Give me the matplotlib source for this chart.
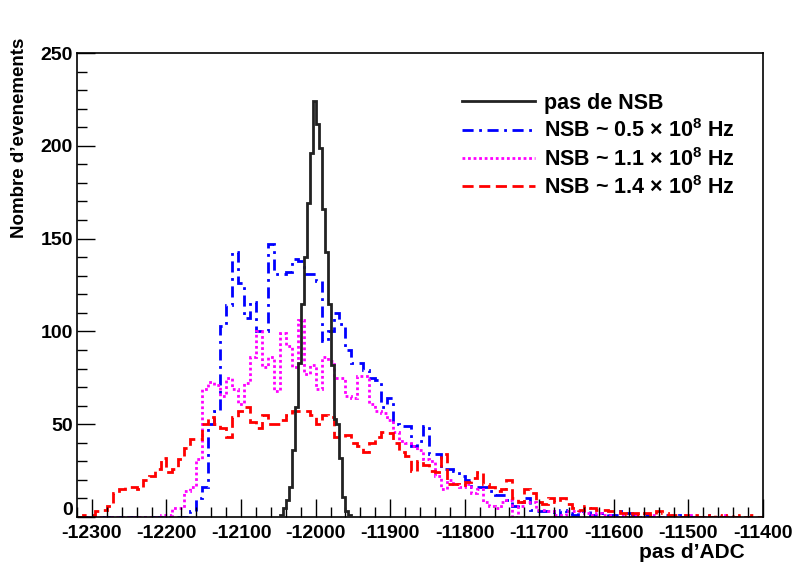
import numpy as np
import matplotlib
matplotlib.use("Agg")
import matplotlib.pyplot as plt
from matplotlib.ticker import MultipleLocator, FuncFormatter

# ADC histograms (counts per bin)
x_min, x_max = -12320, -11400

# no NSB: 4 ADC bins starting at -12048
black_start, black_width = -12048, 4
black_counts = [1, 5, 9, 16, 36, 59, 83, 115, 140, 169, 196, 224,
                212, 199, 166, 143, 115, 82, 53, 50, 32, 11, 3, 1]

# NSB runs: 8 ADC bins starting at -12320
nsb_start, nsb_width = -12320, 8
blue_counts = [0] * 19 + [
    3, 10, 16, 50, 57, 103, 114, 143, 126, 107, 116, 100, 100, 147, 131, 131,
    132, 139, 138, 131, 131, 127, 95, 100, 110, 104, 90, 83, 83, 79, 75, 74,
    59, 64, 50, 49, 49, 38, 41, 49, 34, 34, 26, 26, 25, 22, 20, 16, 16, 16,
    14, 12, 12, 9, 6, 8, 10, 4, 3, 3, 3, 0, 4, 2, 1, 3, 3, 1, 1, 2, 1, 1, 3,
    2, 1, 0, 1, 0, 0, 1, 0, 0, 1, 0, 0, 0, 1, 0, 0, 0, 0, 0]
magenta_counts = [0] * 14 + [
    1, 1, 5, 5, 14, 16, 31, 69, 73, 71, 65, 75, 69, 61, 72, 86, 100, 81, 86,
    68, 99, 92, 81, 106, 77, 82, 69, 86, 84, 75, 75, 65, 64, 76, 76, 61, 57,
    56, 52, 46, 41, 40, 38, 36, 31, 30, 22, 15, 20, 18, 16, 18, 13, 15, 8, 6,
    5, 8, 9, 0, 6, 8, 8, 4, 4, 3, 1, 1, 3, 3, 3, 2, 1, 2, 1, 1, 0, 1, 0, 1, 0,
    0, 1, 0, 0, 1, 0, 0, 1, 0, 0, 0, 0, 0, 1, 0]
red_counts = [
    0, 1, 1, 3, 4, 6, 13, 15, 16, 16, 15, 20, 22, 26, 32, 24, 26, 31, 37, 42,
    42, 50, 54, 50, 48, 43, 54, 57, 59, 51, 48, 55, 50, 50, 52, 55, 57, 57,
    57, 55, 50, 55, 54, 43, 43, 44, 40, 38, 35, 40, 43, 46, 45, 40, 35, 33,
    25, 30, 28, 25, 24, 34, 18, 18, 17, 19, 21, 24, 18, 16, 14, 15, 20, 10,
    8, 15, 13, 8, 7, 10, 8, 10, 7, 5, 4, 6, 5, 4, 4, 3, 3, 2, 1, 2, 1, 2, 1,
    3, 2, 1, 1, 0, 1, 1, 0, 1, 0, 1, 0, 1, 0, 1, 0, 1, 0]

labels = ["pas de NSB",
          r"NSB ~ 0.5 $\times$ 10$^{\mathbf{8}}$ Hz",
          r"NSB ~ 1.1 $\times$ 10$^{\mathbf{8}}$ Hz",
          r"NSB ~ 1.4 $\times$ 10$^{\mathbf{8}}$ Hz"]

plt.rcParams['font.family'] = ['Liberation Sans', 'DejaVu Sans']
plt.rcParams['font.weight'] = 'bold'
plt.rcParams['axes.unicode_minus'] = False
plt.rcParams['mathtext.fontset'] = 'custom'
plt.rcParams['mathtext.rm'] = 'Liberation Sans:bold'
plt.rcParams['mathtext.bf'] = 'Liberation Sans:bold'

fig = plt.figure(figsize=(7.96, 5.72), dpi=100)
ax = fig.add_axes([77 / 796, 1 - 517 / 572, (763 - 77) / 796, (517 - 53) / 572])


def edges(start, width, n):
    return start + width * np.arange(n + 1)


ax.stairs(black_counts, edges(black_start, black_width, len(black_counts)),
          color='#222222', lw=2.0, label=labels[0], zorder=5)
ax.stairs(blue_counts, edges(nsb_start, nsb_width, len(blue_counts)),
          color='#0000ff', lw=2.0, linestyle=(0, (4, 2, 1, 2)), label=labels[1])
ax.stairs(magenta_counts, edges(nsb_start, nsb_width, len(magenta_counts)),
          color='#ff00ff', lw=2.0, linestyle=(0, (1, 1)), label=labels[2])
ax.stairs(red_counts, edges(nsb_start, nsb_width, len(red_counts)),
          color='#ff0000', lw=2.0, linestyle=(0, (4, 2)), label=labels[3])

ax.set_xlim(x_min, x_max)
ax.set_ylim(0, 250)

ax.xaxis.set_major_locator(MultipleLocator(100))
ax.xaxis.set_minor_locator(MultipleLocator(20))
ax.yaxis.set_major_locator(MultipleLocator(50))
ax.yaxis.set_minor_locator(MultipleLocator(10))
# the "0" label is drawn separately, a bit higher, so it clears the x labels
ax.yaxis.set_major_formatter(FuncFormatter(lambda v, p: '' if v == 0 else f'{v:.0f}'))
ax.tick_params(which='both', direction='in', top=False, right=False, width=1)
ax.tick_params(which='major', length=13, labelsize=14)
ax.tick_params(which='minor', length=7)
ax.tick_params(axis='x', pad=6)
ax.tick_params(axis='y', pad=3)
for s in ax.spines.values():
    s.set_linewidth(1.2)
ax.text(-0.006, 0.013, '0', transform=ax.transAxes, ha='right', va='center',
        fontsize=14, fontweight='bold')

fig.text(745 / 796, 1 - 552 / 572, "pas d\u2019ADC", ha='right', va='center',
         fontsize=15, fontweight='bold')
fig.text(20 / 796, 1 - 38 / 572, "Nombre d\u2019evenements", ha='center', va='top',
         rotation=90, fontsize=13.5, fontweight='bold')

leg = ax.legend(loc='upper left', bbox_to_anchor=((462 - 77) / 686, (517 - 93) / 464),
                frameon=False, fontsize=15.5, handlelength=3.4, handletextpad=0.4,
                labelspacing=0.25, borderpad=0, borderaxespad=0)
for t in leg.get_texts():
    t.set_fontweight('bold')
for h in leg.get_lines():
    h.set_linewidth(2.0)

fig.savefig("out.png", dpi=100)
